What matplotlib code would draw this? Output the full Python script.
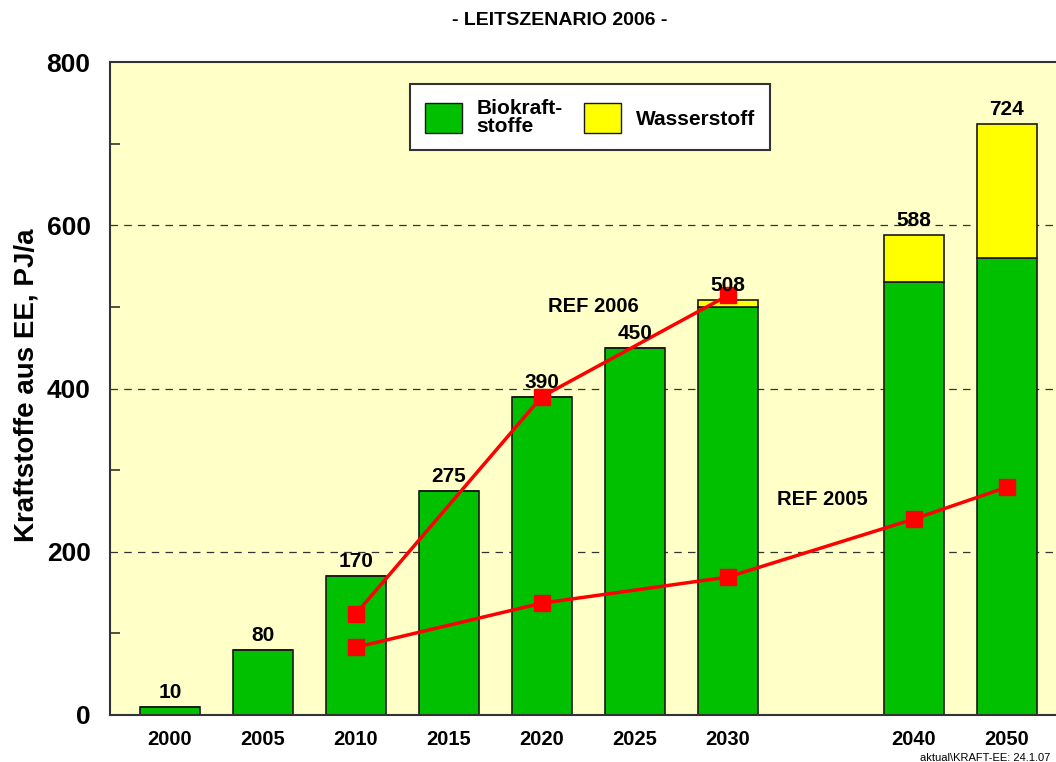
import numpy as np
import matplotlib.pyplot as plt
from matplotlib.patches import Patch
from matplotlib.ticker import MultipleLocator

plt.rcParams['font.family'] = ['Liberation Sans', 'DejaVu Sans']
plt.rcParams['font.weight'] = 'bold'

years = ['2000', '2005', '2010', '2015', '2020', '2025', '2030', '2040', '2050']
slots = [0, 1, 2, 3, 4, 5, 6, 8, 9]
bio = [10, 80, 170, 275, 390, 450, 500, 530, 560]
h2 = [0, 0, 0, 0, 0, 0, 8, 58, 164]
totals = [10, 80, 170, 275, 390, 450, 508, 588, 724]

ref06_slots = [2, 4, 6]
ref06 = [124, 390, 514]
ref05_slots = [2, 4, 6, 8, 9]
ref05 = [83, 137, 169, 240, 279]

green = '#00C000'
yellow = '#FFFF00'
red = '#FF0000'

fig = plt.figure(figsize=(10.56, 7.62), dpi=100)
ax = fig.add_axes([110 / 1056, 47 / 762, 1 - 110 / 1056, 653 / 762])
ax.set_facecolor('#FFFFC8')

x = np.array(slots, dtype=float)
ax.bar(x, bio, width=0.65, color=green, edgecolor='#1a1a1a', linewidth=1.2, zorder=2)
ax.bar(x, h2, width=0.65, bottom=bio, color=yellow, edgecolor='#1a1a1a', linewidth=1.2, zorder=2)
for xi, t in zip(x, totals):
    ax.text(xi, t + 6, str(t), ha='center', va='bottom', fontsize=15, fontweight='bold', zorder=4)

ax.plot(ref06_slots, ref06, color=red, lw=2.5, marker='s', ms=12, zorder=3)
ax.plot(ref05_slots, ref05, color=red, lw=2.5, marker='s', ms=12, zorder=3)
ax.text(4.55, 501, 'REF 2006', ha='center', va='center', fontsize=14.5, fontweight='bold')
ax.text(7.02, 264, 'REF 2005', ha='center', va='center', fontsize=14.5, fontweight='bold')

ax.set_xlim(-0.645, 9.53)
ax.set_ylim(0, 800)
ax.set_xticks(slots)
ax.set_xticklabels(years, fontsize=14.5, fontweight='bold')
ax.tick_params(axis='x', length=0, pad=11)
ax.set_yticks([0, 200, 400, 600, 800])
ax.set_yticklabels(['0', '200', '400', '600', '800'], fontsize=19, fontweight='bold')
ax.yaxis.set_minor_locator(MultipleLocator(100))
ax.tick_params(axis='y', which='major', length=0, pad=14)
ax.tick_params(axis='y', which='minor', direction='in', length=7, width=1.2, color='#333333')
for yv in [200, 400, 600]:
    ax.axhline(yv, color='#333333', lw=0.9, ls=(0, (6, 5)), zorder=1)

ax.spines['right'].set_visible(False)
for s in ['left', 'top', 'bottom']:
    ax.spines[s].set_color('#333333')
    ax.spines[s].set_linewidth(1.5)

ax.set_ylabel('Kraftstoffe aus EE, PJ/a', fontsize=20, fontweight='bold')
ax.yaxis.set_label_coords(-0.074, 0.505)
fig.text(0.53, 0.973, '- LEITSZENARIO 2006 -', ha='center', va='center', fontsize=14, fontweight='bold')
fig.text(0.995, -0.001, 'aktual\\KRAFT-EE: 24.1.07', ha='right', va='bottom', fontsize=8, fontweight='normal')

handles = [Patch(facecolor=green, edgecolor='#1a1a1a'), Patch(facecolor=yellow, edgecolor='#1a1a1a')]
leg = ax.legend(handles, ['Biokraft-\nstoffe', 'Wasserstoff'], ncol=2, loc='upper left',
                bbox_to_anchor=((410 - 110) / 946, (715 - 84) / 653), borderaxespad=0,
                frameon=True, fancybox=False, edgecolor='#333333', framealpha=1,
                handlelength=1.8, handleheight=1.8, handletextpad=0.7, columnspacing=1.0,
                borderpad=0.7, labelspacing=0.2, prop={'weight': 'bold', 'size': 15})
for t in leg.get_texts():
    t.set_linespacing(0.95)
leg.get_frame().set_linewidth(1.5)

fig.savefig('out.png', dpi=100)
